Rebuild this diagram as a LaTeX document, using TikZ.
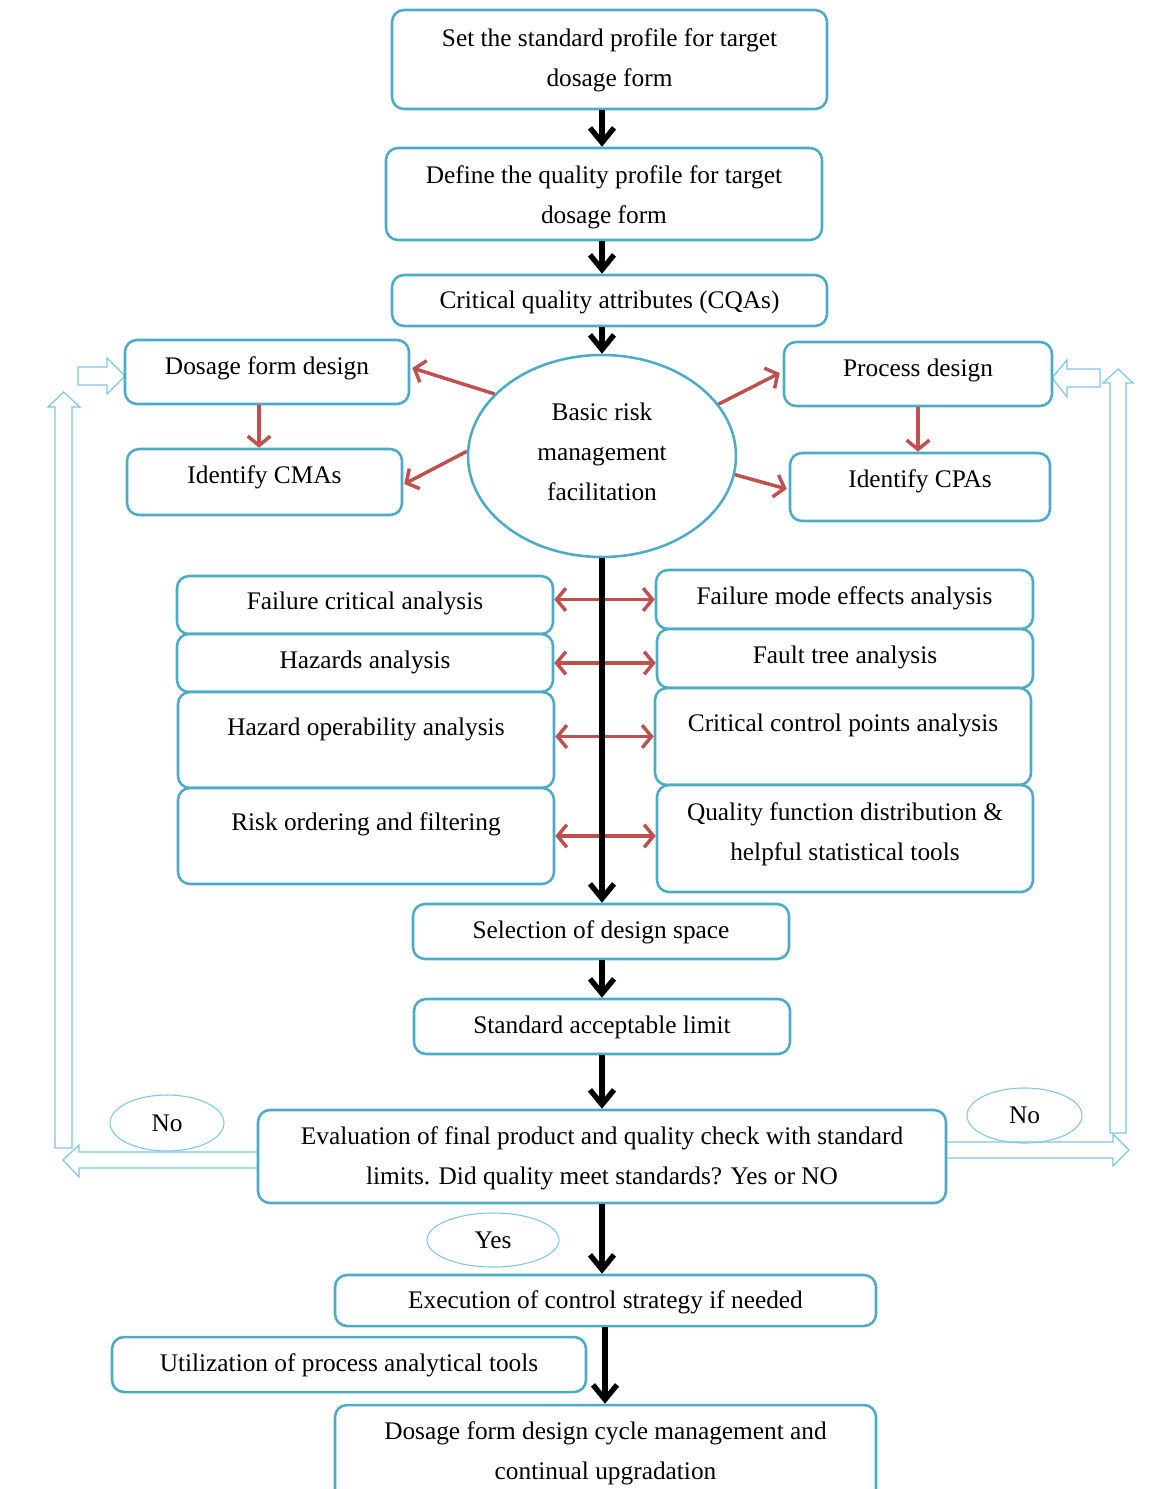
\documentclass[tikz,border=0pt]{standalone}
\usepackage{fontspec}
\setmainfont{Liberation Serif}
\usetikzlibrary{arrows.meta,calc,shapes.geometric}
\definecolor{boxc}{RGB}{75,172,198}
\definecolor{redc}{RGB}{192,80,77}
\definecolor{lightc}{RGB}{125,200,220}
\newcommand\bx[7]{%
  \node[box, minimum width={(#4-#2)*0.75pt}, minimum height={(#5-#3)*0.75pt}] (#1) at ({(#2+#4)/2},{(#3+#5)/2}) {};
  \node[txt] (#1t) at ({(#2+#4)/2},#6+2) {#7};}
\begin{document}
\begin{tikzpicture}[x=0.75pt,y=-0.75pt,
 box/.style={draw=boxc, line width=1.9pt, rounded corners=9pt, fill=white, inner sep=0pt},
 txt/.style={font=\fontsize{19}{30}\selectfont, align=center, inner sep=0pt},
 blk/.style={line width=4pt, -{Straight Barb[length=11pt,width=18pt]}},
 redarr/.style={draw=redc, line width=2.6pt, -{Straight Barb[length=7pt,width=17pt]}},
 redboth/.style={draw=redc, line width=2.6pt, {Straight Barb[length=7pt,width=17pt]}-{Straight Barb[length=7pt,width=17pt]}},
 hollow/.style={draw=lightc, line width=0.9pt, fill=white, line join=miter},
 oval/.style={draw=lightc, line width=0.8pt, ellipse, inner sep=0pt, font=\fontsize{19}{30}\selectfont},
]
\useasboundingbox (0,0) rectangle (1164,1489);

% hollow block arrows
\draw[hollow] (55,1148) -- (55,407) -- (48,407) -- (63.5,392) -- (80,407) -- (72,407) -- (72,1148) -- cycle;
\draw[hollow] (78,367) -- (107,367) -- (107,358) -- (125,376) -- (107,394) -- (107,385) -- (78,385) -- cycle;
\draw[hollow] (258,1152) -- (79,1152) -- (79,1145) -- (63,1160) -- (79,1177) -- (79,1168) -- (258,1168) -- cycle;
\draw[hollow] (1110,1133) -- (1110,383) -- (1103,383) -- (1118,369) -- (1133,383) -- (1126,383) -- (1126,1133) -- cycle;
\draw[hollow] (1100,369) -- (1067,369) -- (1067,360) -- (1052,378) -- (1067,397) -- (1067,387) -- (1100,387) -- cycle;
\draw[hollow] (946,1142) -- (1113,1142) -- (1113,1134) -- (1129,1150) -- (1113,1166) -- (1113,1158) -- (946,1158) -- cycle;

% boxes
\bx{b1}{392}{10}{827}{109}{58}{Set the standard profile for target\\dosage form}
\bx{b2}{386}{148}{822}{240}{195.5}{Define the quality profile for target\\dosage form}
\bx{b3}{392}{275}{827}{326}{300}{Critical quality attributes (CQAs)}
\bx{b4}{125}{340}{409}{404}{366}{Dosage form design}
\bx{b5}{127}{449}{402}{515}{475}{Identify CMAs}
\bx{b7}{784}{342}{1052}{406}{368}{Process design}
\bx{b8}{790}{453}{1050}{521}{479}{Identify CPAs}
\bx{l1}{177}{576}{553}{634}{601}{Failure critical analysis}
\bx{l2}{177}{634}{553}{692}{660}{Hazards analysis}
\bx{l3}{178}{692}{554}{788}{727}{Hazard operability analysis}
\bx{l4}{178}{788}{554}{884}{822}{Risk ordering and filtering}
\bx{r1}{656}{570}{1033}{629}{596}{Failure mode effects analysis}
\bx{r2}{657}{629}{1033}{688}{655}{Fault tree analysis}
\bx{r3}{655}{688}{1031}{785}{723}{Critical control points analysis}
\bx{r4}{657}{785}{1033}{892}{832.5}{Quality function distribution \&\\helpful statistical tools}
\bx{sel}{413}{904}{789}{959}{930}{Selection of design space}
\bx{lim}{414}{999}{790}{1054}{1025}{Standard acceptable limit}
\bx{ev}{258}{1110}{946}{1203}{1156.5}{Evaluation of final product and quality check with standard\\limits. Did quality meet standards? Yes or NO}
\bx{ex}{335}{1275}{876}{1326}{1300}{Execution of control strategy if needed}
\bx{ut}{112}{1337}{586}{1392}{1363}{Utilization of process analytical tools}
\bx{fin}{335}{1405}{876}{1515}{1451.5}{Dosage form design cycle management and\\continual upgradation}

% central ellipse
\node[draw=boxc, line width=1.9pt, ellipse, fill=white, inner sep=0pt, minimum width={268*0.75pt}, minimum height={202*0.75pt}] (ell) at (602,456) {};
\node[txt] (ellt) at (602,452) {Basic risk\\management\\facilitation};

% small ovals
\node[oval, minimum width={114*0.75pt}, minimum height={56*0.75pt}] (no1) at (167,1123) {No};
\node[oval, minimum width={115*0.75pt}, minimum height={55*0.75pt}] (no2) at (1024.5,1115.5) {No};
\node[oval, minimum width={132*0.75pt}, minimum height={54*0.75pt}] (yes) at (493,1240) {Yes};

% red arrows
\draw[redarr] (ell.150) -- ($(b4.east)+(2,-4)$);
\draw[redarr] (ell.178) -- ($(b5.east)+(1,2)$);
\draw[redarr] (ell.24) -- ($(b7.west)+(-3,-1)$);
\draw[redarr] (ell.352) -- ($(b8.west)+(-2,2)$);
\draw[redarr] ($(b4.south)+(-8,0)$) coordinate (c4) -- (c4 |- b5.north);
\draw[redarr] (b7.south) -- (b7.south |- b8.north);
\draw[redboth] (r1.west -| l1.east) -- (r1.west);
\draw[redboth] (l2.east) -- (l2.east -| r2.west);
\draw[redboth] (r3.west -| l3.east) -- (r3.west);
\draw[redboth] (l4.east) -- (l4.east -| r4.west);

% black arrows
\draw[blk] (b1.south -| ell) -- (b2.north -| ell);
\draw[blk] (b2.south -| ell) -- (b3.north -| ell);
\draw[blk] (b3.south -| ell) -- (ell.north);
\draw[blk] (ell.south) -- (sel.north -| ell);
\draw[blk] (sel.south -| ell) -- (lim.north -| ell);
\draw[blk] (lim.south -| ell) -- (ev.north -| ell);
\draw[blk] (ev.south -| ell) -- (ex.north -| ell);
\draw[blk] ($(ex.south -| ell)+(3,0)$) -- ($(fin.north -| ell)+(3,0)$);
\end{tikzpicture}
\end{document}
